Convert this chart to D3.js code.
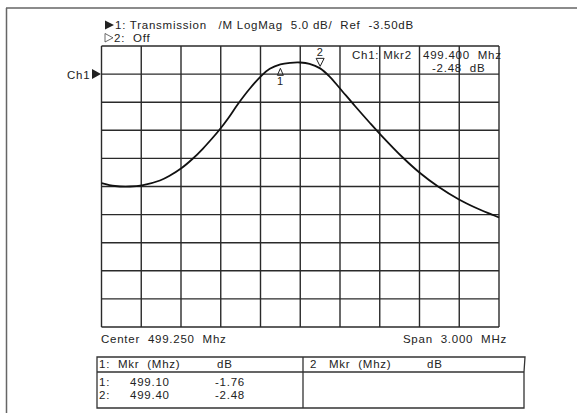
<!DOCTYPE html>
<html><head><meta charset="utf-8">
<script src="https://cdn.jsdelivr.net/npm/d3@7"></script>
<style>
html,body{margin:0;padding:0;background:#fff;}
svg text{font-family:"Liberation Sans",Arial,sans-serif;white-space:pre;fill:#222;letter-spacing:0.75px;}
</style></head>
<body>
<svg id="c" width="577" height="413"></svg>
<script>
// ---- data ----
const freqMHz = [497.75,497.852,497.965,498.056,498.191,498.267,498.355,498.44,498.516,498.591,498.639,498.705,498.78,498.87,498.96,499.02,499.10,499.176,499.25,499.32,499.40,499.475,499.55,499.663,499.776,499.852,500.024,500.154,500.29,500.448,500.57,500.697,500.75];
const transDb = [-22.88,-23.41,-23.5,-23.29,-22.43,-21.54,-20.21,-18.52,-16.74,-14.78,-13.45,-11.40,-8.82,-6.06,-3.71,-2.56,-1.76,-1.49,-1.44,-1.67,-2.48,-4.02,-6.06,-9.18,-12.2,-14.16,-18.34,-21.10,-23.5,-25.81,-27.24,-28.5,-29.02];
const markerIds = [1,2];
const markerFreq = [499.10,499.40];
const markerDb = [-1.76,-2.48];
const centerMHz = 499.25, spanMHz = 3.0;
const refDb = -3.5, dbPerDiv = 5.0, divisions = 10, refDiv = 1;
const headerLine1 = "1: Transmission   /M LogMag  5.0 dB/  Ref  -3.50dB";
const headerLine2 = "2:  Off";

const svg = d3.select("#c");
const L=101.5, R=499, T=46, B=327;
const FS = 11.5;
const x = d3.scaleLinear().domain([centerMHz-spanMHz/2, centerMHz+spanMHz/2]).range([L,R]);
const topDb = refDb + refDiv*dbPerDiv;
const y = d3.scaleLinear().domain([topDb - divisions*dbPerDiv, topDb]).range([B,T]);

// outer frame (top & left)
svg.append("path").attr("d","M6,8H577M6.5,8V413").attr("stroke","#666").attr("stroke-width",1.5).attr("fill","none");

// grid
const g = svg.append("g");
const xt = d3.range(divisions+1).map(i=>x.domain()[0]+i*spanMHz/divisions);
const yt = d3.range(divisions+1).map(i=>topDb - i*dbPerDiv);
g.selectAll(".vx").data(xt).join("line").attr("x1",d=>x(d)).attr("x2",d=>x(d)).attr("y1",T).attr("y2",B)
 .attr("stroke","#2a2a2a").attr("stroke-width",1.4);
g.selectAll(".hy").data(yt).join("line").attr("y1",d=>y(d)).attr("y2",d=>y(d)).attr("x1",L).attr("x2",R)
 .attr("stroke","#2a2a2a").attr("stroke-width",1.4);

// trace
const pts = freqMHz.map((f,i)=>[f,transDb[i]]);
svg.append("path").datum(pts).attr("fill","none").attr("stroke","#111").attr("stroke-width",1.8)
 .attr("d", d3.line().x(d=>x(d[0])).y(d=>y(d[1])).curve(d3.curveCatmullRom.alpha(0.5)));

// header texts
svg.append("path").attr("d","M105,20.5L114,25L105,29.5Z").attr("fill","#222");
svg.append("text").attr("x",115).attr("y",29).attr("font-size",FS).text(headerLine1);
svg.append("path").attr("d","M105,33.5L113,37.8L105,42Z").attr("fill","none").attr("stroke","#444").attr("stroke-width",0.8);
svg.append("text").attr("x",114).attr("y",42).attr("font-size",FS).text(headerLine2);

// Ch1 ref arrow
svg.append("text").attr("x",67).attr("y",79).attr("font-size",FS).text("Ch1");
svg.append("path").attr("d",`M92,${y(refDb)-5}L101,${y(refDb)}L92,${y(refDb)+5}Z`).attr("fill","#222");

// markers
markerIds.forEach((id,i)=>{
  const mx = x(markerFreq[i]), my = y(markerDb[i]);
  if(id===1){
    svg.append("path").attr("d",`M${mx},${my+4}L${mx-3},${my+11}L${mx+3},${my+11}Z`).attr("fill","none").attr("stroke","#222").attr("stroke-width",1);
    svg.append("text").attr("x",mx).attr("y",my+21).attr("font-size",11).attr("text-anchor","middle").text(id);
  } else {
    svg.append("path").attr("d",`M${mx-4},${my-10}L${mx+4},${my-10}L${mx},${my-2}Z`).attr("fill","none").attr("stroke","#222").attr("stroke-width",1);
    svg.append("text").attr("x",mx).attr("y",my-12).attr("font-size",11).attr("text-anchor","middle").text(id);
  }
});

// active marker readout
svg.append("text").attr("x",352).attr("y",58.5).attr("font-size",FS).text("Ch1: Mkr2");
svg.append("text").attr("x",423).attr("y",58.5).attr("font-size",FS).text(markerFreq[1].toFixed(3)+"  Mhz");
svg.append("text").attr("x",432).attr("y",71.5).attr("font-size",FS).text(markerDb[1].toFixed(2)+"  dB");

// center / span
svg.append("text").attr("x",101).attr("y",343).attr("font-size",FS).text("Center  "+centerMHz.toFixed(3)+"  Mhz");
svg.append("text").attr("x",507).attr("y",343).attr("font-size",FS).attr("text-anchor","end").text("Span  "+spanMHz.toFixed(3)+"  MHz");

// marker table
const tb = svg.append("g").attr("stroke","#333").attr("stroke-width",1.3).attr("fill","none");
tb.append("path").attr("d","M97,357H525L524,372V408H97Z");
tb.append("path").attr("d","M97,372H524M303,357V408");
svg.append("text").attr("x",99).attr("y",368).attr("font-size",FS).text("1:  Mkr  (Mhz)");
svg.append("text").attr("x",217).attr("y",368).attr("font-size",FS).text("dB");
svg.append("text").attr("x",310).attr("y",368).attr("font-size",FS).text("2   Mkr  (Mhz)");
svg.append("text").attr("x",427).attr("y",368).attr("font-size",FS).text("dB");
markerIds.forEach((id,i)=>{
  const yy = 385.5 + i*13;
  svg.append("text").attr("x",99).attr("y",yy).attr("font-size",FS).text(id+":");
  svg.append("text").attr("x",130).attr("y",yy).attr("font-size",FS).text(markerFreq[i].toFixed(2));
  svg.append("text").attr("x",215).attr("y",yy).attr("font-size",FS).text(markerDb[i].toFixed(2));
});
</script>
</body></html>
